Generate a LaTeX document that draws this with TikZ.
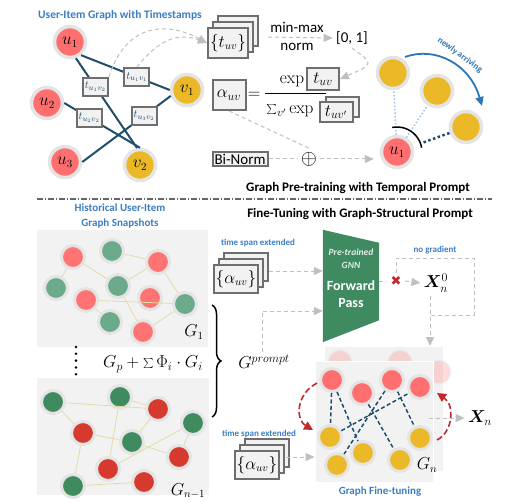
\documentclass[tikz,border=0pt]{standalone}
\usepackage[no-math]{fontspec}
\setmainfont{Carlito}
\newfontfamily\dejavu{DejaVu Sans}
\usepackage{bm}
\usetikzlibrary{calc, arrows.meta, shadows, decorations.pathreplacing}

\definecolor{ured}{HTML}{FF6F6F}
\definecolor{iyel}{HTML}{EBB927}
\definecolor{halo}{HTML}{E4E4E4}
\definecolor{eblue}{HTML}{1F4E6B}
\definecolor{tblue}{HTML}{3B7DC4}
\definecolor{gnng}{HTML}{3F8A60}
\definecolor{panel}{HTML}{F2F2F2}
\definecolor{lgreen}{HTML}{6BAA8B}
\definecolor{lred}{HTML}{FF7373}
\definecolor{dgreen}{HTML}{3F8A5E}
\definecolor{dred}{HTML}{D63A2F}
\definecolor{yedge}{HTML}{E2DCA5}
\definecolor{dgray}{HTML}{BFBFBF}
\definecolor{boxgray}{HTML}{F2F2F2}
\definecolor{boxline}{HTML}{6E6E6E}
\definecolor{arrred}{HTML}{C0282D}
\definecolor{lblue}{HTML}{9DC3E6}
\definecolor{barr}{HTML}{2E75B6}

\newcommand{\fsz}[1]{\fontsize{#1}{#1}\selectfont}

\begin{document}
\begin{tikzpicture}[x=1pt,y=-1pt,>=latex,
  unode/.style={circle, fill=ured, draw=halo, line width=3.5pt, minimum size=31pt, inner sep=0pt, font=\fsz{16}},
  inode/.style={unode, fill=iyel},
  snode/.style={circle, draw=halo, line width=3pt, minimum size=23pt, inner sep=0pt},
  tbox/.style={draw=boxline, line width=2pt, fill=boxgray, inner sep=2pt},
  ebox/.style={tbox, font=\fsz{11}, minimum width=25pt, minimum height=18pt, inner sep=1pt},
  stk/.style={tbox, copy shadow={shadow xshift=10pt, shadow yshift=12pt}, copy shadow={shadow xshift=5pt, shadow yshift=6pt}},
  uedge/.style={eblue, line width=2pt},
  dedge/.style={eblue, line width=1.5pt, dash pattern=on 4pt off 2.5pt},
  yline/.style={yedge, line width=0.8pt},
  gd/.style={dgray, line width=1pt, dash pattern=on 4pt off 3pt},
  gar/.style={gd, -{Triangle[length=9pt,width=8pt]}},
  rarr/.style={arrred, line width=1.6pt, dash pattern=on 6pt off 3pt, -{Triangle[length=9pt,width=9pt]}},
  ttl/.style={font=\bfseries\fsz{13}},
  btxt/.style={text=tblue, font=\bfseries\fsz{9}},
]
  \useasboundingbox (0,0) rectangle (515,503);

  % ===== 上段: 事前学習 =====
  \node[btxt, font=\bfseries\fsz{11.5}] (ttlA) at (120,15) {User-Item Graph with Timestamps};

  % ユーザー・アイテム
  \node[unode] (u1) at (70,42) {$u_1$};
  \node[unode] (u2) at (47,103) {$u_2$};
  \node[unode] (u3) at (65,162) {$u_3$};
  \node[inode] (v1) at (187,90) {$v_1$};
  \node[inode] (v2) at (140,165) {$v_2$};

  % 辺とタイムスタンプ
  \draw[uedge] (u1.-50) -- node[ebox, pos=.63] (t11) {$t_{u_1v_1}$} (v1.west);
  \draw[uedge] (u1.-70) -- node[ebox, pos=.32] (t12) {$t_{u_1v_2}$} (v2.100);
  \draw[uedge] (u2.east) -- node[ebox, pos=.33] (t22) {$t_{u_2v_2}$} (v2.north);
  \draw[uedge] (u3.east) -- node[ebox, pos=.7] (t32) {$t_{u_3v_2}$} (v1.200);

  % {t_uv}
  \node[stk, font=\fsz{16}, minimum width=40pt, minimum height=30pt, inner sep=1pt] (tuv) at (228,43) {$\{t_{uv}\}$};
  \draw[gar] (t12.north east) .. controls (125,25) and (165,20) .. (tuv.west);
  \draw[gar] (t11.north) .. controls (158,40) and (178,32) .. (tuv.west);

  % min-max norm
  \node[font=\fsz{15}] (mm) at (297,27) {min-max};
  \node[font=\fsz{15}] (nm) at (297,47) {norm};
  \node[font=\fsz{15}] (zo) at (352,38) {[0, 1]};
  \coordinate (mmL) at (268,37);
  \draw[gar] (mmL) -- (zo.west);

  % alpha_uv
  \node[tbox, font=\fsz{17}, minimum width=33pt, minimum height=30pt] (alpha) at (229,95) {$\alpha_{uv}$};
  \node[font=\fsz{17}] (eq) at (254,95) {$=$};
  \node[font=\fsz{17}] (expn) at (292,81) {$\exp$};
  \node[tbox, font=\fsz{17}, minimum width=32pt, minimum height=22pt] (tnum) at (323,79) {$t_{uv}$};
  \draw[line width=1pt] (265,94) -- (326,94);
  \node[font=\fsz{17}] (den) at (290,111) {$\sum_{v'}\exp$};
  \node[tbox, font=\fsz{17}, minimum width=33pt, minimum height=20pt, copy shadow={shadow xshift=6pt, shadow yshift=5pt}] (tden) at (336,112) {$t_{uv'}$};
  \draw[gar] (zo.south) .. controls (374,64) .. (tnum.east);

  % Bi-Norm
  \node[tbox, font=\fsz{15}, inner sep=2pt] (bn) at (240,159) {Bi-Norm};
  \node[circle, inner sep=0pt, font=\fsz{22}] (plus) at (309,159) {$\oplus$};
  \draw[gd] (alpha.south) -- (plus.north);
  \draw[gd] (bn.east) -- (plus.west);

  % 右: 新規アイテム
  \node[inode] (yR1) at (393,73) {};
  \node[inode] (yR2) at (437,91) {};
  \node[inode] (yR3) at (466,127) {};
  \node[unode] (uR) at (397,152) {$u_1$};
  \draw[gar] (plus.east) -- ($(plus.east -| uR.west)+(-6,0)$);
  \draw[lblue, line width=1.5pt, dotted] (uR) -- (yR1);
  \draw[lblue, line width=1.5pt, dotted] (uR) -- (yR2);
  \draw[eblue, line width=2.5pt, dash pattern=on 2.5pt off 2.5pt, shorten <=11pt] (uR) -- (yR3);
  \draw[line width=1.5pt] (uR.center) ++(-101:25) arc[start angle=-101, end angle=-10, radius=25];
  \coordinate (naS) at (405,57);
  \coordinate (naE) at (482,106);
  \draw[barr, line width=1.8pt, -{Triangle[length=9pt,width=8pt]}] (naS) .. controls (435,46) and (470,64) .. (naE);
  \node[text=barr, font=\bfseries\fsz{9}, rotate=-36] (naT) at (460,55) {newly arriving};

  \node[ttl] (ttlP) at (358,188) {Graph Pre-training with Temporal Prompt};
  % 区切り線
  \draw[gray!80!black, line width=1pt, dash pattern=on 6pt off 2pt on 1pt off 2pt] (37,199) -- (492,199);

  % ===== 下段: ファインチューニング =====
  \node[ttl] (ttlF) at (360,214) {Fine-Tuning with Graph-Structural Prompt};
  \node[btxt, font=\bfseries\fontsize{11}{15}\selectfont, align=center] (hist) at (120,216) {Historical User-Item\\Graph Snapshots};

  % スナップショット G_1
  \fill[panel] (37,230) rectangle (208,347);
  \foreach \n/\x/\y/\c in {a1/73/257/lred, a2/112/251/lgreen, a3/158/262/lred, a4/56/288/lgreen, a5/118/286/lgreen,
      a6/86/300/lred, a7/150/298/lred, a8/185/304/lgreen, a9/110/322/lgreen, a10/143/332/lred} {
    \node[snode, fill=\c] (\n) at (\x,\y) {};
  }
  \foreach \a/\b in {a1/a4, a1/a5, a2/a3, a3/a5, a3/a8, a5/a10, a6/a8, a6/a9, a10/a8} {
    \draw[yline] (\a) -- (\b);
  }
  \node[font=\fsz{16}] (lG1) at (194,332) {$G_1$};

  % 点々
  \foreach \i in {0,...,5} {
    \fill (76,347+6.8*\i) circle[radius=1.4];
  }
  \node[font=\fsz{17}] (gp) at (153,364) {$G_p+\sum\Phi_i\cdot G_i$};

  % スナップショット G_{n-1}
  \fill[panel] (37,378) rectangle (209,495);
  \foreach \n/\x/\y/\c in {b1/53/402/dgreen, b2/120/397/dgreen, b3/158/409/dred, b4/193/423/dgreen, b5/83/433/dred,
      b6/132/442/dgreen, b7/179/457/dred, b8/108/469/dred, b9/73/486/dgreen, b10/144/482/dred} {
    \node[snode, fill=\c] (\n) at (\x,\y) {};
  }
  \foreach \a/\b in {b1/b3, b1/b5, b2/b3, b2/b8, b5/b6, b3/b6, b5/b9, b6/b7, b4/b8, b4/b7, b9/b10} {
    \draw[yline] (\a) -- (\b);
  }
  \node[font=\fsz{16}] (lGn1) at (188,491) {$G_{n-1}$};

  % 括弧
  \draw[line width=1.5pt, decorate, decoration={brace, amplitude=9pt}] (212,305) -- (212,417);
  \node[font=\fsz{18}] (gpr) at (264,362) {$G^{prompt}$};

  % 事前学習済みGNN
  \node[btxt] (ts1) at (258,243) {time span extended};
  \node[stk, font=\fsz{16}, minimum height=28pt, inner sep=1.5pt] (al1) at (236,279) {$\{\alpha_{uv}\}$};
  \node[minimum width=56pt, minimum height=112pt] (gnn) at (351,286) {};
  \fill[gnng] (gnn.north west) -- ($(gnn.north east)+(0,13)$) -- ($(gnn.south east)+(0,-22)$) -- (gnn.south west) -- cycle;
  \node[text=white!85!gnng, font=\bfseries\itshape\fontsize{9.5}{13}\selectfont, align=center] (gnnT) at (351,259) {Pre-trained\\GNN};
  \node[text=white, font=\bfseries\fontsize{14}{17}\selectfont, align=center] (gnnF) at (351,294) {Forward\\Pass};
  \draw[gar] ($(al1.east)+(10,-8)$) -- ($(gnn.west)+(0,-15)$);
  \draw[gar] ([xshift=-2pt]gpr.north) |- ($(gnn.west)+(0,25)$);

  % 出力 X_n^0
  \node[text=arrred, font=\dejavu\fsz{13}] (xx) at (396,281) {✖};
  \node[font=\fsz{17}] (x0) at (436,283) {$\bm{X}_n^0$};
  \node[btxt] (nog) at (435,250) {no gradient};
  \draw[gd] (gnn.east |- xx) -- (xx.west);
  \draw[gar] (xx.east) -- (x0.west);
  \draw[gd] (xx.north) |- (474,258) |- (430,315);

  % グラフ G_n
  \node[fill=panel, draw=white, line width=1pt, minimum width=119pt, minimum height=125pt] (gnB) at (384,409) {};
  \foreach \x/\y in {340/362, 400/362, 439/372} {
    \node[snode, fill=ured, opacity=.25] at (\x,\y) {};
  }
  \node[fill=panel, draw=white, line width=1pt, minimum width=118pt, minimum height=121pt] (gnF) at (374,422) {};
  \draw[gar] ([xshift=-6pt]x0.south) -- ([xshift=-6pt]x0.south |- gnB.north);
  \foreach \n/\x/\y in {c1/332/380, c2/362/393, c3/392/380, c4/420/387} {
    \node[snode, fill=ured] (\n) at (\x,\y) {};
  }
  \foreach \n/\x/\y in {d1/330/437, d2/363/453, d3/400/460, d4/337/465, d5/420/438} {
    \node[snode, fill=iyel] (\n) at (\x,\y) {};
  }
  \foreach \a/\b in {c1/d1, c1/d2, c2/d3, c3/d4, c3/d5, d1/c4} {
    \draw[dedge] (\a) -- (\b);
  }
  \node[font=\fsz{16}] (lGn) at (427,465) {$G_n$};

  % 赤い矢印
  \coordinate (laS) at (317,383);
  \coordinate (laE) at (313,430);
  \coordinate (raS) at (437,440);
  \coordinate (raE) at (437,393);
  \draw[rarr] (laS) .. controls (295,395) and (296,420) .. (laE);
  \draw[rarr] (raS) .. controls (453,432) and (455,405) .. (raE);

  % 出力 X_n
  \node[font=\fsz{17}] (xn) at (480,418) {$\bm{X}_n$};
  \draw[gar] ([xshift=-5pt]gnF.east |- xn) -- (xn.west);

  \node[btxt] (ts2) at (259,434) {time span extended};
  \node[stk, font=\fsz{16}, minimum height=28pt, inner sep=1.5pt] (al2) at (257,465) {$\{\alpha_{uv}\}$};
  \draw[gar] ($(al2.east)+(6,-8)$) -- ($(gnF.west)+(0,35)$);
  \node[btxt, font=\bfseries\fsz{11}] (gft) at (380,492) {Graph Fine-tuning};
\end{tikzpicture}
\end{document}
